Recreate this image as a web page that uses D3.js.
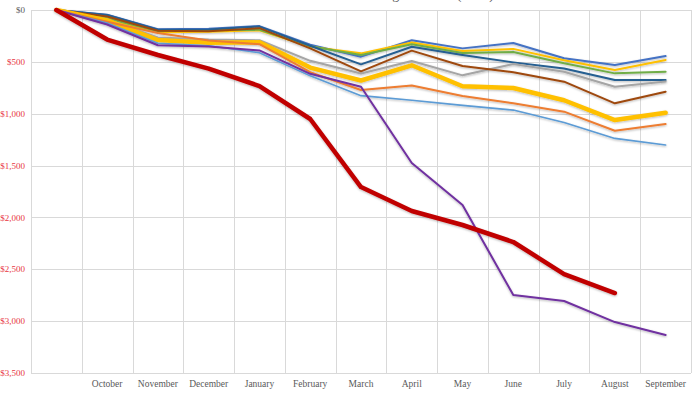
<!DOCTYPE html>
<html>
<head>
<meta charset="utf-8">
<script src="https://cdn.jsdelivr.net/npm/d3@7"></script>
<style>
  html, body { margin: 0; padding: 0; background: #fff; }
  svg { display: block; }
</style>
</head>
<body>
<svg id="chart" width="700" height="394"></svg>
<script>
const title = "Cumulative Savings Balance (USD)";
const months = ["", "October", "November", "December", "January", "February", "March", "April", "May", "June", "July", "August", "September"];
const yTicks = [0, 500, 1000, 1500, 2000, 2500, 3000, 3500];

const seriesNames = ["Blue", "Gold", "Green", "Navy", "Gray", "Brown", "Gold (bold)", "Orange", "Light Blue", "Purple", "Red (bold)"];
const blueVals      = [0, 45, 185, 180, 155, 335, 450, 292, 370, 318, 466, 530, 444];
const goldVals      = [0, 95, 215, 210, 195, 355, 418, 313, 395, 375, 485, 579, 482];
const greenVals     = [0, 80, 205, 195, 190, 350, 434, 331, 415, 405, 514, 611, 595];
const navyVals      = [0, 48, 190, 188, 160, 345, 524, 354, 434, 505, 565, 675, 675];
const grayVals      = [0, 90, 265, 285, 292, 490, 612, 492, 630, 520, 595, 740, 690];
const brownVals     = [0, 62, 200, 205, 175, 370, 592, 392, 540, 600, 691, 900, 788];
const goldBoldVals  = [0, 100, 290, 315, 312, 555, 680, 533, 735, 752, 870, 1061, 990];
const orangeVals    = [0, 113, 222, 295, 330, 600, 771, 727, 830, 900, 980, 1164, 1100];
const lightBlueVals = [0, 125, 320, 345, 412, 635, 826, 870, 920, 965, 1085, 1238, 1302];
const purpleVals    = [0, 140, 340, 352, 390, 615, 740, 1475, 1880, 2748, 2806, 3009, 3134];
const redVals       = [0, 285, 434, 565, 733, 1051, 1707, 1938, 2073, 2237, 2546, 2729, null];

const seriesValues = [blueVals, goldVals, greenVals, navyVals, grayVals, brownVals, goldBoldVals, orangeVals, lightBlueVals, purpleVals, redVals];
const seriesColors = ["#4472C4", "#FFC000", "#70AD47", "#255E91", "#A5A5A5", "#9E480E", "#FFC000", "#ED7D31", "#5B9BD5", "#7030A0", "#C00000"];
const seriesWidths = [2, 2, 2, 2, 2, 2, 4.5, 2, 1.6, 2, 4.5];

const svg = d3.select("#chart");
const margin = { left: 31, right: 9, top: 10, bottom: 21 };
const W = 700, H = 394;

const x = d3.scaleBand().domain(months.map((m, i) => i)).range([margin.left, W - margin.right]).padding(0);
const y = d3.scaleLinear().domain([0, 3500]).range([margin.top, H - margin.bottom]);

const defs = svg.append("defs");
const f = defs.append("filter").attr("id", "shadow").attr("x", "-10%").attr("y", "-10%").attr("width", "120%").attr("height", "130%");
f.append("feDropShadow").attr("dx", 0).attr("dy", 1).attr("stdDeviation", 0.8).attr("flood-color", "#000").attr("flood-opacity", 0.28);

// title (mostly cut off at the top in the reference)
svg.append("text").attr("x", 494).attr("y", -1).attr("text-anchor", "end")
  .attr("font-family", "Liberation Serif, serif").attr("font-size", 14).attr("fill", "#595959").text(title);

// horizontal gridlines
svg.append("g").selectAll("line").data(yTicks).join("line")
  .attr("x1", margin.left).attr("x2", W - margin.right)
  .attr("y1", d => Math.round(y(d)) + 0.5).attr("y2", d => Math.round(y(d)) + 0.5)
  .attr("stroke", "#D9D9D9").attr("stroke-width", 1);

// vertical gridlines at band boundaries
const bounds = months.map((m, i) => x(i)).concat([x(months.length - 1) + x.bandwidth()]);
svg.append("g").selectAll("line").data(bounds).join("line")
  .attr("x1", d => Math.round(d) + 0.5).attr("x2", d => Math.round(d) + 0.5)
  .attr("y1", margin.top).attr("y2", H - margin.bottom)
  .attr("stroke", "#D9D9D9").attr("stroke-width", 1);

// y tick labels
const fmt = d3.format("$,");
svg.append("g").selectAll("text").data(yTicks).join("text")
  .attr("x", 25).attr("y", d => y(d)).attr("dy", "0.35em").attr("text-anchor", "end")
  .attr("font-family", "Liberation Serif, serif").attr("font-size", 9)
  .attr("fill", d => d === 0 ? "#595959" : "#E8363F")
  .text(d => fmt(d));

// x labels
svg.append("g").selectAll("text").data(months).join("text")
  .attr("x", (d, i) => x(i) + x.bandwidth() / 2).attr("y", 387)
  .attr("text-anchor", "middle")
  .attr("font-family", "Liberation Serif, serif").attr("font-size", 9.5).attr("fill", "#595959")
  .text(d => d);

// lines
const line = d3.line().defined(d => d != null)
  .x((d, i) => x(i) + x.bandwidth() / 2).y(d => y(d));

const g = svg.append("g").attr("filter", "url(#shadow)");
seriesValues.forEach((vals, k) => {
  g.append("path").datum(vals)
    .attr("fill", "none").attr("stroke", seriesColors[k]).attr("stroke-width", seriesWidths[k])
    .attr("stroke-linejoin", "round").attr("stroke-linecap", "round")
    .attr("d", line)
    .append("title").text(seriesNames[k]);
});
</script>
</body>
</html>
